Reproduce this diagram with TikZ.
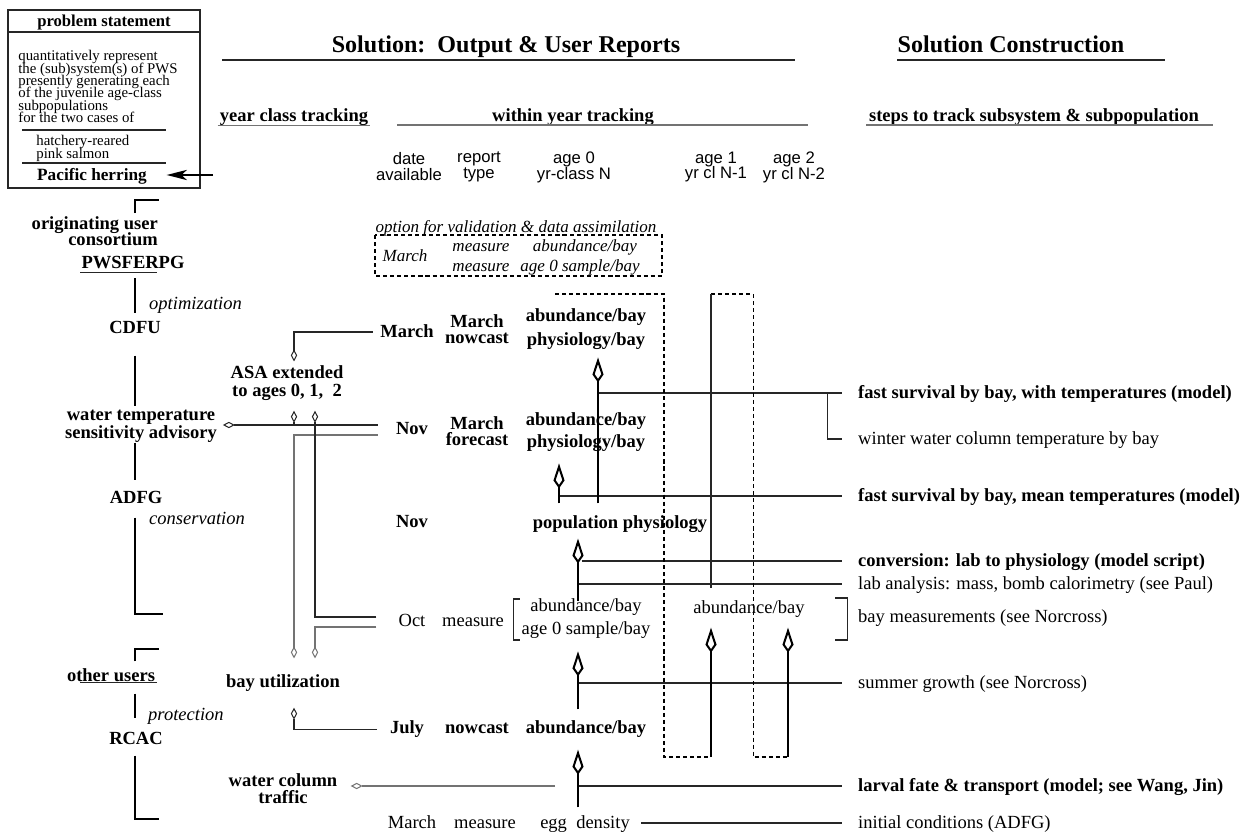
\documentclass[tikz,border=0pt]{standalone}
\usepackage{fontspec}
\setmainfont{Liberation Serif}
\setsansfont{Liberation Sans}
\usetikzlibrary{arrows.meta,calc}
\lineskiplimit=-20pt

\tikzset{
  txt/.style={inner sep=1pt, font=\fontsize{10}{12}\selectfont},
  bftxt/.style={inner sep=1pt, font=\fontsize{10}{12}\selectfont\bfseries},
  ittxt/.style={inner sep=1pt, font=\fontsize{10}{12}\selectfont\itshape},
  optit/.style={inner sep=1pt, one, font=\fontsize{9.2}{11}\selectfont\itshape},
  one/.style={text height=1.5ex, text depth=.25ex},
  tightbf/.style={bftxt, align=center, font=\fontsize{10}{8.7}\selectfont\bfseries},
  headtxt/.style={inner sep=1pt, one, font=\fontsize{13}{15}\selectfont\bfseries},
  coltxt/.style={inner sep=1pt, align=center, font=\fontsize{9}{8.6}\selectfont\sffamily},
  boxtxt/.style={inner sep=0pt, anchor=north west, align=left, font=\fontsize{8}{6.7}\selectfont},
  steptxt/.style={txt, one, anchor=west},
  stepbf/.style={bftxt, one, anchor=west},
  wire/.style={line width=0.55pt, draw=black!85},
  greywire/.style={line width=0.55pt, draw=black!55},
  spine/.style={line width=1.1pt},
  dashwire/.style={line width=0.55pt, dash pattern=on 2.2pt off 1.6pt},
  feedtip/.style={-{Kite[open, length=6.5pt, width=3.4pt, inset=3.2pt]}},
  flow/.style={line width=1.1pt, -{Kite[open, length=13.5pt, width=6pt, inset=4.3pt]}},
  tomodel/.style={wire, shorten >=7.5pt},
}

\begin{document}
\begin{tikzpicture}[x=0.54pt, y=-0.54pt]
  \useasboundingbox (0,0) rectangle (1255,833);

  % problem statement box
  \draw[wire] (8,10) rectangle (200,188);
  \draw[wire] (8,32) -- (200,32);
  \node[bftxt, one, font=\fontsize{9}{10}\selectfont\bfseries] (probhead) at (104,21) {problem statement};
  \node[boxtxt] (probtext) at (18,50) {quantitatively represent\\the (sub)system(s) of PWS\\presently generating each\\of the juvenile age-class\\subpopulations\\for the two cases of};
  \draw[wire] (22,130) -- (166,130);
  \node[boxtxt] (salmon) at (36,135) {hatchery-reared\\pink salmon};
  \draw[wire] (22,163) -- (166,163);
  \node[bftxt, one, anchor=west, font=\fontsize{9.3}{10}\selectfont\bfseries] (herring) at (35,175) {Pacific herring};
  \coordinate (herringfrom) at (213,175);
  \draw[line width=1pt, -{Stealth[length=11pt, width=5.5pt, inset=3pt]}] (herringfrom) -- ([xshift=9.5pt]herring.east);

  % headings
  \node[headtxt] (outhead) at (506,47) {Solution:\ \ Output \& User Reports};
  \draw[wire] (222,60) -- (795,60);
  \node[headtxt] (conshead) at (1011,47) {Solution Construction};
  \draw[wire] (897,60) -- (1165,60);
  \node[bftxt, one] (yctrack) at (294,116) {year class tracking};
  \draw[greywire] (yctrack.south west) -- (yctrack.south east);
  \node[bftxt, one] (wytrack) at (573,116) {within year tracking};
  \draw[greywire] (397,125) -- (808,125);
  \node[bftxt, one] (steptrack) at (1034,116) {steps to track subsystem \& subpopulation};
  \draw[greywire] (866,125) -- (1213,125);

  \node[coltxt] (hdate) at (409,167) {date\\available};
  \node[coltxt] (hrep) at (479,167) {report\\type};
  \node[coltxt] (hage0) at (574,167) {age 0\\yr-class N};
  \node[coltxt] (hage1) at (716,167) {age 1\\yr cl N-1};
  \node[coltxt] (hage2) at (794,167) {age 2\\yr cl N-2};

  % validation option
  \node[optit] (opthead) at (516,227) {option for validation \& data assimilation};
  \draw[dashwire] (375,235) rectangle (662,276);
  \node[optit] (optmar) at (405,256) {March};
  \node[optit] (optmeasa) at (481,246) {measure};
  \node[optit] (optmeasb) at (481,266) {measure};
  \node[optit] (optabund) at (585,246) {abundance/bay};
  \node[optit] (optsample) at (580,266) {age 0 sample/bay};

  % report rows
  \node[bftxt, one] (marN) at (407,332) {March};
  \node[tightbf] (repN) at (477,329) {March\\nowcast};
  \node[bftxt, align=center, font=\fontsize{10}{13}\selectfont\bfseries] (ageN) at (586,329) {abundance/bay\\physiology/bay};

  \node[bftxt, one] (novF) at (412,429) {Nov};
  \node[tightbf] (repF) at (477,431) {March\\forecast};
  \node[bftxt, align=center, font=\fontsize{10}{12}\selectfont\bfseries] (ageF) at (586,432) {abundance/bay\\physiology/bay};

  \node[bftxt, one] (novP) at (412,522) {Nov};
  \node[bftxt, one] (popphys) at (620,523) {population physiology};

  \node[txt, one] (octM) at (412,621) {Oct};
  \node[txt, one] (repM) at (473,621) {measure};
  \node[txt, align=center, font=\fontsize{10}{12.4}\selectfont] (ageM) at (586,619) {abundance/bay\\age 0 sample/bay};
  \node[txt, one] (ageM1) at (749,608) {abundance/bay};

  \node[bftxt, one] (julN) at (407,728) {July};
  \node[bftxt, one] (repJ) at (477,728) {nowcast};
  \node[bftxt, one] (ageJ) at (586,728) {abundance/bay};

  \node[txt, one] (marE) at (412,823) {March};
  \node[txt, one] (repE) at (485,823) {measure};
  \node[txt, one] (eggd) at (585,823) {egg\ \ density};

  % users
  \node[tightbf, align=right, anchor=east] (origin) at (160,231) {originating user\\consortium};
  \node[bftxt, one] (pwsferpg) at (133,263) {PWSFERPG};
  \node[bftxt, one] (cdfu) at (135,328) {CDFU};
  \node[bftxt, align=center, font=\fontsize{10}{9.7}\selectfont\bfseries] (wtemp) at (141,426) {water temperature\\sensitivity advisory};
  \node[bftxt, one] (adfg) at (136,498) {ADFG};
  \node[bftxt, one] (others) at (111,676) {other users};
  \node[bftxt, one] (rcac) at (136,739) {RCAC};
  \node[ittxt, one, anchor=west] (optim) at (147,304) {optimization};
  \node[ittxt, one, anchor=west] (conserv) at (147,519) {conservation};
  \node[ittxt, one, anchor=west] (protect) at (146,715) {protection};

  \draw[spine] (origin.north -| cdfu) ++(0,-1) -- ++(0,-13) -- ++(24,0);
  \draw[spine] ([yshift=-3pt]pwsferpg.south -| cdfu) -- ([yshift=3pt]cdfu.north);
  \draw[spine] ([yshift=-9.7pt]cdfu.south) -- ([yshift=1pt]wtemp.north -| cdfu);
  \draw[spine] ([yshift=1pt]wtemp.south -| cdfu) -- ([yshift=4.3pt]adfg.north -| cdfu);
  \draw[spine] ([yshift=-5.4pt]adfg.south -| cdfu) -- ++(0,96) -- ++(28,0);
  \draw[spine] ([yshift=2.7pt]others.north -| cdfu) -- ++(0,-12) -- ++(24,0);
  \draw[spine] ([yshift=-4.3pt]others.south -| cdfu) -- ([yshift=6pt]rcac.north -| cdfu);
  \draw[spine] ([yshift=-3.8pt]rcac.south -| cdfu) -- ++(0,63) -- ++(24,0);
  \draw[wire] ([xshift=0.5pt]pwsferpg.south west) -- ++(77,0);
  \draw[wire] ([yshift=1.5pt]others.south east) -- ++(-77,0);

  % year class tracking
  \node[bftxt, align=center, font=\fontsize{10}{9.7}\selectfont\bfseries] (asa) at (287,383) {ASA extended\\to ages 0, 1,\ \ 2};
  \node[bftxt, one] (bayutil) at (283,682) {bay utilization};
  \node[bftxt, align=center, font=\fontsize{10}{9.2}\selectfont\bfseries] (wct) at (283,789) {water column\\traffic};

  \coordinate (xa) at (294,0);
  \coordinate (xb) at (315,0);
  \coordinate (x0) at (578,0);
  \coordinate (xf) at (559,0);
  \coordinate (xn) at (598,0);
  \coordinate (x1) at (711,0);
  \coordinate (x2) at (788,0);
  \coordinate (xw) at (827,0);
  \coordinate (novFa) at ($(novF.west)+(-16,-4)$);
  \coordinate (novFb) at ($(novF.west)+(-16,6)$);
  \coordinate (octa) at ($(octM.west)+(-20,-4)$);
  \coordinate (octb) at ($(octM.west)+(-20,6)$);
  \coordinate (larvalleft) at (555,786);

  \draw[wire, feedtip, shorten <=3pt, shorten >=1pt] (marN.west) -| (asa.north -| xa);
  \draw[wire, feedtip, shorten >=2pt] (novFa) -- (novFa -| wtemp.east);
  \draw[wire, feedtip, shorten >=4.3pt] (novFa -| xa) -- (asa.south -| xa);
  \draw[greywire, feedtip, shorten >=7.5pt] (novFb) -| (bayutil.north -| xa);
  \draw[wire, feedtip, shorten >=4.3pt] (octa) -| (asa.south -| xb);
  \draw[greywire, feedtip, shorten >=7.5pt] (octb) -| (bayutil.north -| xb);
  \draw[wire, feedtip, shorten <=5.8pt, shorten >=8.6pt] ([yshift=-1pt]julN.west) -| (bayutil.south -| xa);
  \draw[greywire, feedtip, shorten >=6pt] (larvalleft) -- (larvalleft -| wct.east);

  % construction steps
  \node[stepbf] (fastT) at (856,393) {fast survival by bay, with temperatures (model)};
  \node[steptxt] (winter) at (856,439) {winter water column temperature by bay};
  \node[stepbf] (fastM) at (856,496) {fast survival by bay, mean temperatures (model)};
  \node[stepbf] (convert) at (856,561) {conversion: lab to physiology (model script)};
  \node[steptxt] (labana) at (856,584) {lab analysis: mass, bomb calorimetry (see Paul)};
  \node[steptxt] (baymeas) at (856,617) {bay measurements (see Norcross)};
  \node[steptxt] (summer) at (856,683) {summer growth (see Norcross)};
  \node[stepbf] (larval) at (856,786) {larval fate \& transport (model; see Wang, Jin)};
  \node[steptxt] (initc) at (856,823) {initial conditions (ADFG)};

  \draw[tomodel] (fastT.west -| xn) -- (fastT.west);
  \draw[tomodel] (fastT.west -| xw) |- (winter.west);
  \draw[tomodel] (fastM.west -| xf) -- (fastM.west);
  \draw[tomodel, shorten <=2pt] (convert.west -| x0) -- (convert.west);
  \draw[tomodel] (labana.west -| x0) -- (labana.west);
  \draw[tomodel] (summer.west -| x0) -- (summer.west);
  \draw[tomodel] (larval.west -| x0) -- (larval.west);
  \draw[tomodel, shorten <=5pt] (eggd.east) -- (initc.west);
  \draw[wire] ($(baymeas.west)+(-21,-19)$) -- ++(12,0) -- ++(0,42) -- ++(-12,0);
  \draw[wire] ($(ageM.west)+(0,-20)$) -- ++(-6,0) -- ++(0,41) -- ++(6,0);

  % age 0 chain
  \draw[flow, shorten <=3.2pt, shorten >=6.5pt] (eggd.north -| x0) -- (ageJ.south -| x0);
  \draw[flow, shorten <=4.9pt, shorten >=5.5pt] (ageJ.north -| x0) -- (ageM.south -| x0);
  \draw[flow, shorten <=-2.2pt, shorten >=3.2pt] (ageM.north -| x0) -- (popphys.south -| x0);
  \draw[flow, shorten <=5.4pt, shorten >=5.2pt] (popphys.north -| xf) -- (ageF.south -| xf);
  \draw[flow, shorten <=5.4pt, shorten >=3.1pt] (popphys.north -| xn) -- (ageN.south -| xn);

  % ages 1 and 2
  \coordinate (carry0) at (555,294);
  \coordinate (carry1) at (711,294);
  \coordinate (dip1) at (711,757);
  \coordinate (dip2) at (788,757);
  \draw[dashwire] (carry0) -| (664,757) -- (dip1);
  \draw[dashwire] (carry1) -| (753,757) -- (dip2);
  \draw[wire] (carry1) -- ([yshift=-2pt]labana.west -| x1);
  \draw[flow, shorten >=5.4pt] (dip1) -- (ageM1.south -| x1);
  \draw[flow, shorten >=5.4pt] (dip2) -- (ageM1.south -| x2);
\end{tikzpicture}
\end{document}
